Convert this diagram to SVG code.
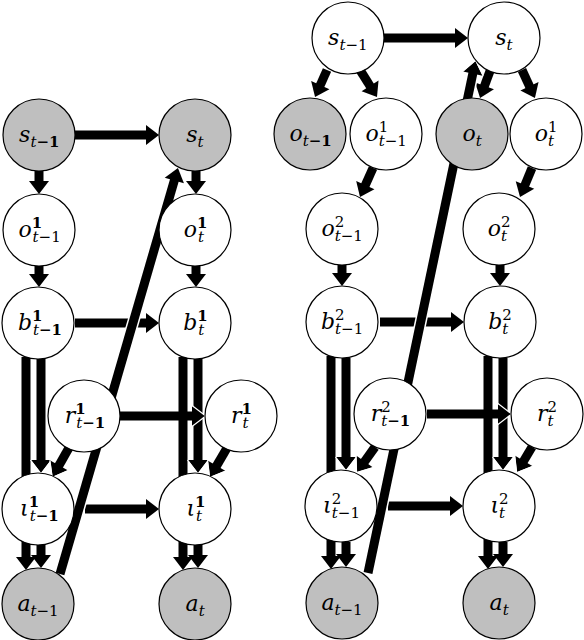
<svg xmlns="http://www.w3.org/2000/svg" width="584" height="640" viewBox="0 0 584 640">
<style>
.n{fill:#fff;stroke:#000;stroke-width:1.2}
.g{fill:#bfbfbf}
.c{stroke:#000;stroke-width:9;fill:none}
.a{marker-end:url(#ah)}
.w{marker-end:url(#aw)}
.u{stroke:#fff;stroke-width:12;fill:none}
.lb{font-family:"DejaVu Serif","Liberation Serif",serif;font-size:22px;fill:#000}
.it{font-style:italic}
.sc{font-size:15px}
.bd{font-weight:bold}
</style>
<defs>
<marker id="ah" markerUnits="userSpaceOnUse" markerWidth="16" markerHeight="24" viewBox="-2 -12 16 24" refX="0" refY="0" orient="auto">
<path d="M-1,-10 L12,0 L-1,10 Z" fill="#000"/>
</marker>
<marker id="aw" markerUnits="userSpaceOnUse" markerWidth="18" markerHeight="26" viewBox="-3 -13 18 26" refX="0" refY="0" orient="auto">
<path d="M-1,-10 L12,0 L-1,10 Z" fill="#000"/>
<path d="M-1,-10.5 L12.8,0 L-1,10.5" fill="none" stroke="#fff" stroke-width="1.2"/>
</marker>
</defs>

<g id="connectors">
<!-- left panel bars -->
<line class="c" x1="26" y1="357" x2="26" y2="558" marker-end="url(#ah)"/>
<line class="c w" x1="41" y1="359" x2="41" y2="461"/>
<line class="c a" x1="41" y1="544" x2="41" y2="556"/>
<line class="c a" x1="183" y1="357" x2="183" y2="558"/>
<line class="c w" x1="198" y1="359" x2="198" y2="461"/>
<line class="c a" x1="198" y1="544" x2="198" y2="556"/>
<!-- left panel -->
<line class="c a" x1="75" y1="135" x2="147" y2="135"/>
<line class="c a" x1="39" y1="171" x2="39" y2="182"/>
<line class="c a" x1="196" y1="171" x2="196" y2="182"/>
<line class="c a" x1="39" y1="266" x2="39" y2="275"/>
<line class="c a" x1="196" y1="266" x2="196" y2="275"/>
<line class="c a" x1="75" y1="323" x2="147" y2="323"/>
<line class="c w" x1="70" y1="446" x2="58.5" y2="466.3"/>
<line class="c w" x1="120" y1="416" x2="193" y2="416"/>
<line class="c w" x1="227" y1="448" x2="216.1" y2="466.6"/>
<line class="c a" x1="85" y1="509" x2="147" y2="509"/>
<line class="u" x1="60" y1="574" x2="174.6" y2="179.5"/>
<line class="c a" x1="60" y1="574" x2="174.6" y2="179.5"/>
<!-- right panel bars -->
<line class="c a" x1="331" y1="356" x2="331" y2="557"/>
<line class="c w" x1="346" y1="358" x2="346" y2="458"/>
<line class="c a" x1="346" y1="542" x2="346" y2="555"/>
<line class="c a" x1="488" y1="356" x2="488" y2="557"/>
<line class="c w" x1="503" y1="358" x2="503" y2="458"/>
<line class="c a" x1="503" y1="542" x2="503" y2="555"/>
<!-- right panel -->
<line class="c a" x1="384" y1="38" x2="456" y2="38"/>
<line class="c a" x1="327" y1="70" x2="319.9" y2="86"/>
<line class="c a" x1="360" y1="70" x2="370.6" y2="86.8"/>
<line class="c a" x1="490" y1="71" x2="484.2" y2="86.8"/>
<line class="c a" x1="522" y1="70" x2="529.9" y2="87.1"/>
<line class="c a" x1="373" y1="168" x2="364.9" y2="186.1"/>
<line class="c a" x1="532" y1="168" x2="524.6" y2="185.9"/>
<line class="c a" x1="342" y1="265" x2="342" y2="274"/>
<line class="c a" x1="500" y1="265" x2="500" y2="274"/>
<line class="c a" x1="380" y1="322" x2="452" y2="322"/>
<line class="c w" x1="375" y1="447" x2="364" y2="462.3"/>
<line class="c w" x1="427" y1="414" x2="499" y2="414"/>
<line class="c w" x1="532" y1="447" x2="523.2" y2="461.7"/>
<line class="c a" x1="388" y1="506" x2="451" y2="506"/>
<line class="u" x1="368" y1="573" x2="473" y2="72.7"/>
<line class="c w" x1="368" y1="573" x2="473" y2="72.7"/>
</g>

<!-- LEFT PANEL NODES -->
<g id="L_s_t-1"><circle class="n g" cx="39" cy="135" r="36"/>
<text class="lb" x="19.1" y="142"><tspan class="it">s</tspan><tspan class="sc" dy="5"><tspan class="it">t</tspan><tspan class="bd">−1</tspan></tspan></text></g>
<g id="L_s_t"><circle class="n g" cx="195" cy="135" r="36"/>
<text class="lb" x="186.2" y="142"><tspan class="it">s</tspan><tspan class="sc it" dy="5">t</tspan></text></g>
<g id="L_o1_t-1"><circle class="n" cx="39" cy="230" r="36"/>
<text class="lb" x="18.4" y="237"><tspan class="it">o</tspan><tspan class="sc bd" dy="-9">1</tspan><tspan class="sc" dx="-9.5" dy="14"><tspan class="it">t</tspan>−1</tspan></text></g>
<g id="L_o1_t"><circle class="n" cx="195" cy="230" r="36"/>
<text class="lb" x="183.7" y="237"><tspan class="it">o</tspan><tspan class="sc bd" dy="-9">1</tspan><tspan class="sc it" dx="-9.5" dy="14">t</tspan></text></g>
<g id="L_b1_t-1"><circle class="n" cx="38" cy="323" r="36"/>
<text class="lb" x="17.9" y="330"><tspan class="it">b</tspan><tspan class="sc bd" dy="-9">1</tspan><tspan class="sc" dx="-9.5" dy="14"><tspan class="it">t</tspan><tspan class="bd">−1</tspan></tspan></text></g>
<g id="L_b1_t"><circle class="n" cx="195" cy="323" r="36"/>
<text class="lb" x="183.2" y="330"><tspan class="it">b</tspan><tspan class="sc bd" dy="-9">1</tspan><tspan class="sc it" dx="-9.5" dy="14">t</tspan></text></g>
<g id="L_r1_t-1"><circle class="n" cx="84" cy="416" r="36"/>
<text class="lb" x="64.7" y="423"><tspan class="it">r</tspan><tspan class="sc bd" dy="-9">1</tspan><tspan class="sc" dx="-9.5" dy="14"><tspan class="it">t</tspan><tspan class="bd">−1</tspan></tspan></text></g>
<g id="L_r1_t"><circle class="n" cx="241" cy="416" r="36"/>
<text class="lb" x="231" y="423"><tspan class="it">r</tspan><tspan class="sc bd" dy="-9">1</tspan><tspan class="sc it" dx="-9.5" dy="14">t</tspan></text></g>
<g id="L_i1_t-1"><circle class="n" cx="38" cy="509" r="36"/>
<text class="lb" x="20.1" y="516"><tspan class="it">ι</tspan><tspan class="sc bd" dy="-9">1</tspan><tspan class="sc" dx="-9.5" dy="14"><tspan class="it">t</tspan><tspan class="bd">−1</tspan></tspan></text></g>
<g id="L_i1_t"><circle class="n" cx="195" cy="509" r="36"/>
<text class="lb" x="186.4" y="516"><tspan class="it">ι</tspan><tspan class="sc bd" dy="-9">1</tspan><tspan class="sc it" dx="-9.5" dy="14">t</tspan></text></g>
<g id="L_a_t-1"><circle class="n g" cx="38" cy="604" r="36"/>
<text class="lb" x="17.4" y="611"><tspan class="it">a</tspan><tspan class="sc" dy="5"><tspan class="it">t</tspan>−1</tspan></text></g>
<g id="L_a_t"><circle class="n g" cx="195" cy="604" r="36"/>
<text class="lb" x="185.5" y="611"><tspan class="it">a</tspan><tspan class="sc it" dy="5">t</tspan></text></g>

<!-- RIGHT PANEL NODES -->
<g id="R_s_t-1"><circle class="n" cx="348" cy="38" r="36"/>
<text class="lb" x="328.1" y="45"><tspan class="it">s</tspan><tspan class="sc" dy="5"><tspan class="it">t</tspan>−1</tspan></text></g>
<g id="R_s_t"><circle class="n" cx="504" cy="38" r="36"/>
<text class="lb" x="495.2" y="45"><tspan class="it">s</tspan><tspan class="sc it" dy="5">t</tspan></text></g>
<g id="R_o_t-1"><circle class="n g" cx="310" cy="134" r="36"/>
<text class="lb" x="289.4" y="141"><tspan class="it">o</tspan><tspan class="sc" dy="5"><tspan class="it">t</tspan><tspan class="bd">−1</tspan></tspan></text></g>
<g id="R_o1_t-1"><circle class="n" cx="386" cy="134" r="36"/>
<text class="lb" x="365.4" y="141"><tspan class="it">o</tspan><tspan class="sc" dy="-9">1</tspan><tspan class="sc" dx="-9.5" dy="14"><tspan class="it">t</tspan>−1</tspan></text></g>
<g id="R_o_t"><circle class="n g" cx="472" cy="134" r="36"/>
<text class="lb" x="462.4" y="141"><tspan class="it">o</tspan><tspan class="sc it" dy="5">t</tspan></text></g>
<g id="R_o1_t"><circle class="n" cx="546" cy="134" r="36"/>
<text class="lb" x="534.7" y="141"><tspan class="it">o</tspan><tspan class="sc" dy="-9">1</tspan><tspan class="sc it" dx="-9.5" dy="14">t</tspan></text></g>
<g id="R_o2_t-1"><circle class="n" cx="342" cy="229" r="36"/>
<text class="lb" x="321.4" y="236"><tspan class="it">o</tspan><tspan class="sc" dy="-9">2</tspan><tspan class="sc" dx="-9.5" dy="14"><tspan class="it">t</tspan>−1</tspan></text></g>
<g id="R_o2_t"><circle class="n" cx="499" cy="229" r="36"/>
<text class="lb" x="487.7" y="236"><tspan class="it">o</tspan><tspan class="sc" dy="-9">2</tspan><tspan class="sc it" dx="-9.5" dy="14">t</tspan></text></g>
<g id="R_b2_t-1"><circle class="n" cx="342" cy="322" r="36"/>
<text class="lb" x="320.9" y="329"><tspan class="it">b</tspan><tspan class="sc" dy="-9">2</tspan><tspan class="sc" dx="-9.5" dy="14"><tspan class="it">t</tspan>−1</tspan></text></g>
<g id="R_b2_t"><circle class="n" cx="500" cy="322" r="36"/>
<text class="lb" x="488.2" y="329"><tspan class="it">b</tspan><tspan class="sc" dy="-9">2</tspan><tspan class="sc it" dx="-9.5" dy="14">t</tspan></text></g>
<g id="R_r2_t-1"><circle class="n" cx="390" cy="414" r="36"/>
<text class="lb" x="370.7" y="421"><tspan class="it">r</tspan><tspan class="sc" dy="-9">2</tspan><tspan class="sc" dx="-9.5" dy="14"><tspan class="it">t</tspan><tspan class="bd">−1</tspan></tspan></text></g>
<g id="R_r2_t"><circle class="n" cx="547" cy="414" r="36"/>
<text class="lb" x="537" y="421"><tspan class="it">r</tspan><tspan class="sc" dy="-9">2</tspan><tspan class="sc it" dx="-9.5" dy="14">t</tspan></text></g>
<g id="R_i2_t-1"><circle class="n" cx="341" cy="506" r="36"/>
<text class="lb" x="323.1" y="513"><tspan class="it">ι</tspan><tspan class="sc" dy="-9">2</tspan><tspan class="sc" dx="-9.5" dy="14"><tspan class="it">t</tspan>−1</tspan></text></g>
<g id="R_i2_t"><circle class="n" cx="499" cy="506" r="36"/>
<text class="lb" x="490.4" y="513"><tspan class="it">ι</tspan><tspan class="sc" dy="-9">2</tspan><tspan class="sc it" dx="-9.5" dy="14">t</tspan></text></g>
<g id="R_a_t-1"><circle class="n g" cx="342" cy="603" r="36"/>
<text class="lb" x="321.4" y="610"><tspan class="it">a</tspan><tspan class="sc" dy="5"><tspan class="it">t</tspan>−1</tspan></text></g>
<g id="R_a_t"><circle class="n g" cx="499" cy="603" r="36"/>
<text class="lb" x="489.5" y="610"><tspan class="it">a</tspan><tspan class="sc it" dy="5">t</tspan></text></g>
</svg>
